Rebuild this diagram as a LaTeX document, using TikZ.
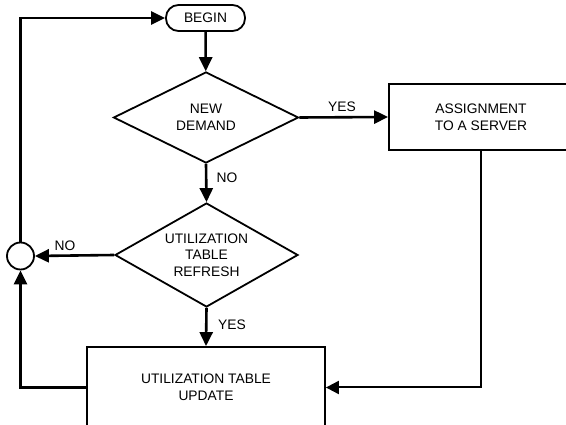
\documentclass[tikz,border=0pt]{standalone}
\usepackage{fontspec}
\setmainfont{Liberation Sans}
\usetikzlibrary{arrows.meta,shapes.geometric}

\begin{document}
\begin{tikzpicture}[x=1pt,y=-1pt,
  every node/.style={font=\fontsize{13.8}{16.6}\selectfont, align=center, text=black},
  box/.style={draw, line width=1.8pt, rectangle, inner sep=0pt},
  decision/.style={draw, line width=1.8pt, diamond, inner sep=0pt, aspect=1.8},
  terminal/.style={draw, line width=1.8pt, rectangle, rounded corners=12.5pt,
    minimum width=79pt, minimum height=26pt, inner sep=0pt},
  joint/.style={draw, line width=1.8pt, circle, minimum size=27pt, inner sep=0pt},
  flow/.style={line width=2.6pt, -{Triangle[length=14pt,width=13pt]}},
  thinflow/.style={line width=2pt, -{Triangle[length=13pt,width=13pt]}},
  lbl/.style={inner sep=0pt}
]
\useasboundingbox (0,0) rectangle (566,425);
\begin{scope}
\clip (0,0) rectangle (566,425);

% shapes
\node[terminal] (begin) at (205.5,18) {BEGIN};
\node[decision, minimum width=185pt, minimum height=91pt] (demand) at (206,117.5) {NEW\\DEMAND};
\node[box, minimum width=184pt, minimum height=66pt] (assign) at (481,117) {ASSIGNMENT\\TO A SERVER};
\node[decision, minimum width=183pt, minimum height=104pt] (refresh) at (206.5,255) {UTILIZATION\\TABLE\\REFRESH};
\node[joint] (merge) at (20.5,256) {};
\node[box, minimum width=238pt, minimum height=81pt] (update) at (206,387.5) {UTILIZATION TABLE\\UPDATE};

% connectors
\draw[flow] (begin) -- (demand);
\draw[flow] (demand.east) -- (assign.west);
\draw[flow] (demand.south) -- (refresh.north);
\draw[flow] (refresh.west) -- (merge.east);
\draw[flow] (refresh.south) -- (update.north);
\draw[thinflow] (assign.south) |- (update.east);
\draw[flow] (update.west) -| (merge.south);
\draw[flow] (merge.north) |- (begin.west);

% branch labels
\node[lbl] (yes1) at (342,107) {YES};
\node[lbl] (no1) at (227,178) {NO};
\node[lbl] (no2) at (65,246) {NO};
\node[lbl] (yes2) at (232,325) {YES};
\end{scope}
\end{tikzpicture}
\end{document}
